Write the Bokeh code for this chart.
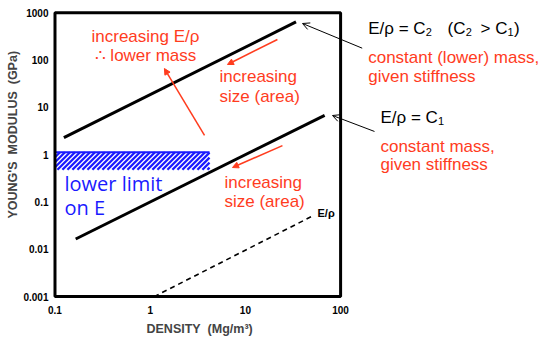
import math
from bokeh.plotting import figure
from bokeh.models import (Label, Arrow, NormalHead, OpenHead, FixedTicker,
                          CustomJSTickFormatter, BoxAnnotation, Title)
from bokeh.embed import file_html
from bokeh.resources import INLINE

# ---- data -------------------------------------------------------------
x_ticks = [0.1, 1, 10, 100]
y_ticks = [0.001, 0.01, 0.1, 1, 10, 100, 1000]

density_c2 = [0.124, 34.0]      # E/rho = C2 line
modulus_c2 = [2.3, 640.0]
density_c1 = [0.165, 68.0]      # E/rho = C1 line
modulus_c1 = [0.0165, 6.8]
density_ref = [1.1, 52.0]       # dashed E/rho reference line
modulus_ref = [0.001, 0.052]

limit_left = [0.1]              # lower limit on E (hatched band)
limit_right = [4.2]
limit_bottom = [0.48]
limit_top = [1.13]

RED = "#ff3c1e"
BLUE = "#1a1aff"
FONT = "Liberation Sans"
NB = "\u00a0"

# ---- layout -----------------------------------------------------------
W, H = 541, 338
BL, BR, BT, BB = 51, 0, 9, 38
X_RANGE = (0.0919, 12890)
Y_RANGE = (0.000828, 1174)

# the frame is wider than the plotting box so the notes on the right can be
# drawn as annotations; the box itself is drawn around the tick extent.
p = figure(width=W, height=H, x_axis_type="log", y_axis_type="log",
           x_range=X_RANGE, y_range=Y_RANGE,
           output_backend="svg", toolbar_location=None,
           min_border_left=BL, min_border_right=BR,
           min_border_top=BT, min_border_bottom=BB)

p.grid.visible = False
p.outline_line_color = None
p.background_fill_color = "white"
p.border_fill_color = "white"

p.add_layout(BoxAnnotation(left=x_ticks[0], right=x_ticks[-1],
                           bottom=y_ticks[0], top=y_ticks[-1],
                           fill_alpha=0, line_color="black", line_alpha=1,
                           line_width=3))

fmt = CustomJSTickFormatter(code="return String(+tick.toPrecision(3));")
for ax, ticks, standoff in ((p.xaxis[0], x_ticks, 5), (p.yaxis[0], y_ticks, 3)):
    ax.ticker = FixedTicker(ticks=ticks, minor_ticks=[])
    ax.formatter = fmt
    ax.axis_line_color = None
    ax.major_tick_line_color = None
    ax.minor_tick_line_color = None
    ax.major_tick_out = 0
    ax.major_tick_in = 0
    ax.major_label_text_font = FONT
    ax.major_label_text_font_style = "bold"
    ax.major_label_text_font_size = "10px"
    ax.major_label_text_color = "black"
    ax.major_label_standoff = standoff

p.add_layout(Title(text="DENSITY" + NB + " (Mg/m\u00b3)", align="left",
                   offset=95, text_font=FONT, text_font_style="bold",
                   text_font_size="12.5px", standoff=6), "below")
p.add_layout(Title(text="YOUNG'S" + NB + " MODULUS" + NB + " (GPa)",
                   align="left", offset=82, text_font=FONT,
                   text_font_style="bold", text_font_size="12.5px",
                   standoff=2), "left")

# ---- hatched band (white fill + diagonal blue stripes) ------------------
p.quad(left=limit_left, right=limit_right, bottom=limit_bottom, top=limit_top,
       fill_color="white", line_color=None)

kx = (W - BL - BR) / (math.log10(X_RANGE[1]) - math.log10(X_RANGE[0]))
ky = (H - BT - BB) / (math.log10(Y_RANGE[1]) - math.log10(Y_RANGE[0]))
lx0, lx1 = math.log10(limit_left[0]), math.log10(limit_right[0])
ly0, ly1 = math.log10(limit_bottom[0]), math.log10(limit_top[0])
bw, bh = (lx1 - lx0) * kx, (ly1 - ly0) * ky      # band size in pixels
PERIOD, SLANT = 5.0, bh                          # 45 degree stripes
hx0, hy0, hx1, hy1 = [], [], [], []
s = -SLANT
while s < bw:
    t0 = max(0.0, -s / SLANT)
    t1 = min(1.0, (bw - s) / SLANT)
    if t1 > t0:
        hx0.append(10 ** (lx0 + (s + t0 * SLANT) / kx))
        hy0.append(10 ** (ly0 + t0 * bh / ky))
        hx1.append(10 ** (lx0 + (s + t1 * SLANT) / kx))
        hy1.append(10 ** (ly0 + t1 * bh / ky))
    s += PERIOD
p.segment(x0=hx0, y0=hy0, x1=hx1, y1=hy1, line_color=BLUE, line_width=2.3,
          line_cap="butt")
p.segment(x0=limit_left, x1=limit_right, y0=limit_top, y1=limit_top,
          line_color=BLUE, line_width=2)

# ---- lines ------------------------------------------------------------
p.line(density_c2, modulus_c2, line_color="black", line_width=3)
p.line(density_c1, modulus_c1, line_color="black", line_width=3)
p.line(density_ref, modulus_ref, line_color="black", line_width=1.6,
       line_dash="5 4")


def lab(x, y, text, color="black", size="17px", align="left", style="normal",
        font=FONT, dx=0, dy=0):
    p.add_layout(Label(x=x, y=y, text=text, text_color=color,
                       text_font_size=size, text_align=align,
                       text_baseline="middle", text_font=font,
                       text_font_style=style, x_offset=dx, y_offset=dy))


def arrow(x0, y0, x1, y1, color, width, head):
    p.add_layout(Arrow(x_start=x0, y_start=y0, x_end=x1, y_end=y1,
                       line_color=color, line_width=width, end=head))


# red annotations inside
lab(0.892, 315, "increasing E/\u03c1", color=RED, align="center")
lab(0.892, 125, "\u2234 lower mass", color=RED, align="center")
lab(5.35, 45, "increasing", color=RED)
lab(5.35, 17.0, "size (area)", color=RED)
lab(6.03, 0.258, "increasing", color=RED)
lab(6.03, 0.102, "size (area)", color=RED)

# blue text
lab(0.1259, 0.246, "lower limit", color=BLUE, size="20px", font="Open Sans")
lab(0.1259, 0.0766, "on E", color=BLUE, size="20px", font="Open Sans")

# small E/rho label
lab(57.2, 0.06, "E/\u03c1", size="11px", style="bold")

# right-hand texts (subscripts as smaller, lowered pieces)
SUB = "11px"
lab(195, 466, "E/\u03c1 = C")
lab(195, 466, "2", size=SUB, dx=57.5, dy=-4)
lab(195, 466, "(C", dx=79.3)
lab(195, 466, "2", size=SUB, dx=97.5, dy=-4)
lab(195, 466, "> C", dx=112.3)
lab(195, 466, "1", size=SUB, dx=139.4, dy=-4)
lab(195, 466, ")", dx=145.8)
lab(195, 113.5, "constant (lower) mass,", color=RED)
lab(195, 45, "given stiffness", color=RED)
lab(262, 6.2, "E/\u03c1 = C")
lab(262, 6.2, "1", size=SUB, dx=57.5, dy=-4)
lab(262, 1.49, "constant mass,", color=RED)
lab(262, 0.62, "given stiffness", color=RED)

# arrows
rhead = lambda: NormalHead(size=6, fill_color=RED, line_color=RED)
arrow(21.7, 273, 6.48, 80.7, RED, 1.5, rhead())
arrow(24.5, 1.56, 7.32, 0.536, RED, 1.5, rhead())
arrow(3.72, 2.55, 1.41, 66.4, RED, 1.5, rhead())
bhead = lambda: OpenHead(size=7, line_color="black", line_width=1)
arrow(168.6, 178.6, 39.8, 594, "black", 1, bhead())
arrow(227, 3.10, 82.2, 6.74, "black", 1, bhead())

open("out.html", "w").write(file_html(p, INLINE))
